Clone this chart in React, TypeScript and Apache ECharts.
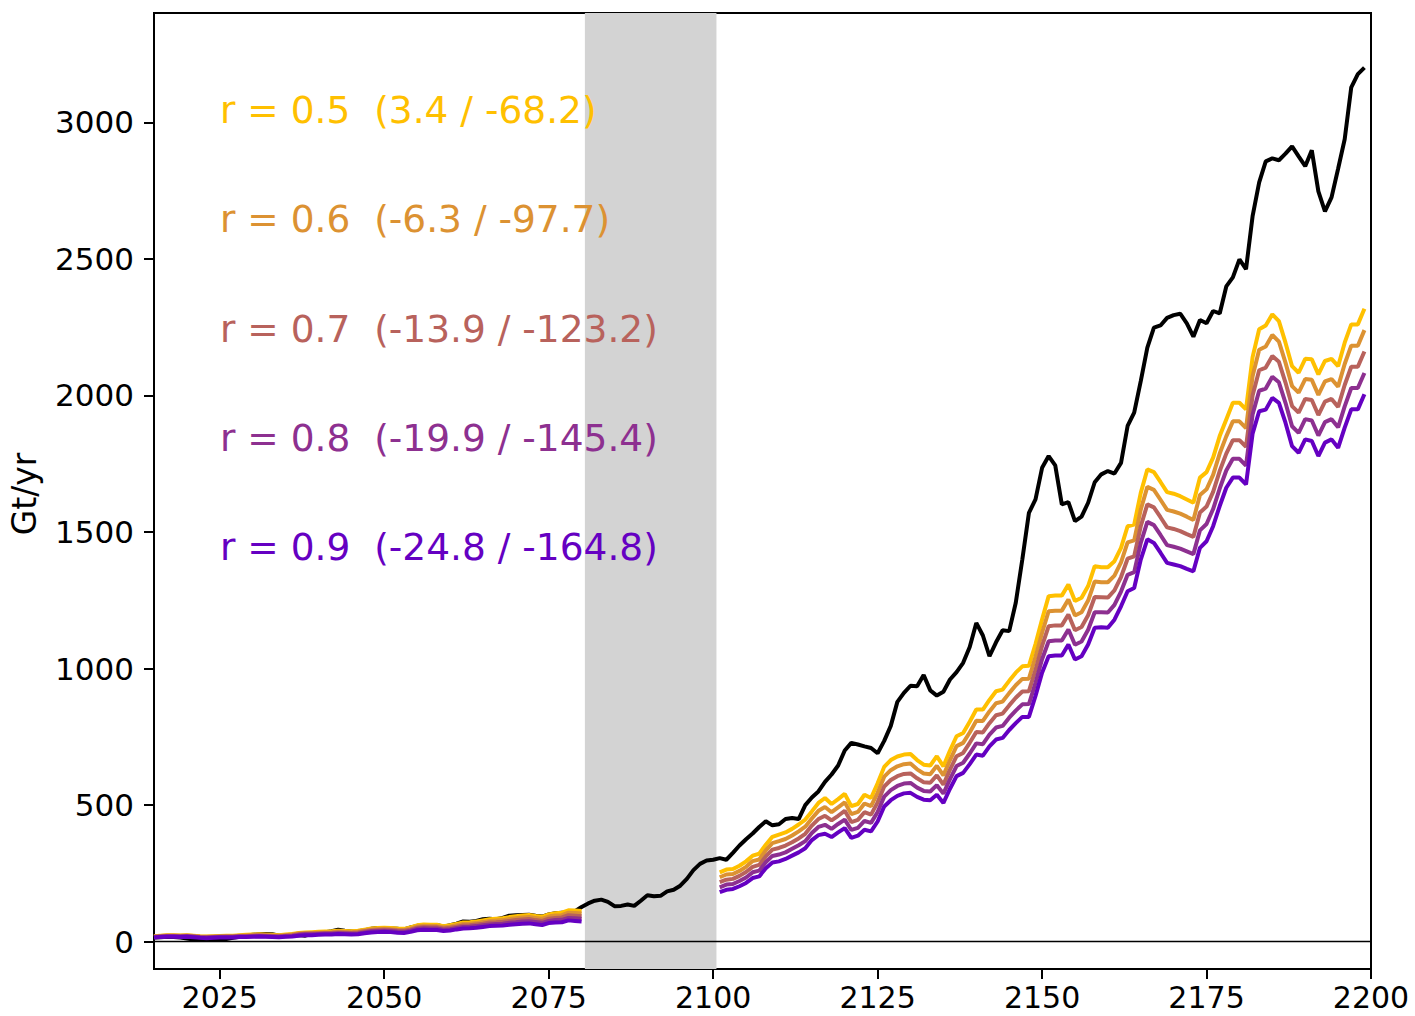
import React, { useEffect, useRef } from "react";
import * as echarts from "echarts";

// ---------- data ----------
const FIRST_YEAR = 2015; // first year of every series
const LATE_START = 2101; // r-series resume after the shaded period

const xTicks = [2025, 2050, 2075, 2100, 2125, 2150, 2175, 2200];
const yTicks = [0, 500, 1000, 1500, 2000, 2500, 3000];
const shadedPeriod = [2080.5, 2100.5];

// black line, 2015..2199
const blackValues = [
  15, 16, 18, 17, 15, 12, 8, 6, 6, 7,
  8, 10, 14, 18, 22, 25, 27, 28, 27, 22,
  24, 25, 24, 22, 28, 32, 35, 38, 44, 40,
  37, 38, 42, 47, 50, 49, 48, 47, 45, 52,
  58, 60, 60, 61, 55, 60, 66, 74, 73, 76,
  82, 84, 82, 87, 95, 97, 98, 99, 95, 92,
  100, 104, 106, 107, 112, 127, 140, 150, 154, 146,
  130, 131, 136, 131, 150, 170, 166, 168, 184, 190,
  205, 230, 262, 285, 297, 300, 306, 300, 325, 352,
  375, 396, 420, 441, 426, 430, 449, 453, 449, 500,
  528, 550, 585, 612, 645, 700, 728, 722, 715, 709,
  690, 735, 790, 878, 911, 937, 935, 976, 920, 901,
  915, 960, 987, 1021, 1079, 1167, 1121, 1045, 1096, 1140,
  1137, 1241, 1400, 1570, 1619, 1735, 1778, 1744, 1601, 1609,
  1540, 1556, 1607, 1682, 1711, 1723, 1714, 1753, 1888, 1937,
  2052, 2175, 2248, 2256, 2284, 2294, 2299, 2264, 2215, 2276,
  2264, 2309, 2300, 2399, 2432, 2498, 2462, 2656, 2780, 2857,
  2868, 2861, 2885, 2912, 2875, 2839, 2897, 2747, 2674, 2725,
  2830, 2938, 3128, 3176, 3200,
];

// r-series, 2015..2080
const r05Early = [
  20, 22, 24, 24, 23, 24, 22, 20, 19, 20,
  21, 22, 22, 24, 25, 26, 27, 26, 25, 24,
  26, 28, 32, 34, 35, 36, 37, 38, 40, 39,
  38, 40, 44, 48, 50, 51, 50, 48, 47, 52,
  60, 63, 62, 62, 57, 60, 65, 70, 71, 74,
  78, 82, 84, 86, 90, 93, 96, 98, 94, 91,
  100, 104, 106, 115, 114, 112,
];
const r06Early = [
  19, 21, 23, 23, 22, 23, 21, 19, 18, 19,
  20, 20, 20, 22, 23, 24, 25, 24, 23, 22,
  24, 26, 30, 32, 32, 33, 34, 35, 37, 36,
  35, 37, 41, 45, 46, 47, 46, 44, 43, 48,
  56, 58, 57, 57, 53, 55, 60, 65, 66, 68,
  72, 76, 78, 79, 83, 86, 89, 90, 87, 84,
  92, 96, 97, 106, 105, 103,
];
const r07Early = [
  18, 20, 21, 21, 20, 21, 19, 17, 16, 17,
  18, 19, 19, 21, 21, 22, 23, 22, 21, 20,
  22, 24, 27, 29, 30, 31, 32, 32, 34, 33,
  32, 34, 38, 41, 43, 44, 43, 41, 40, 44,
  51, 54, 53, 53, 48, 51, 55, 59, 60, 63,
  66, 70, 71, 73, 76, 79, 81, 83, 79, 76,
  84, 87, 89, 97, 95, 93,
];
const r08Early = [
  16, 18, 20, 20, 19, 20, 18, 16, 15, 16,
  17, 17, 17, 19, 19, 20, 21, 20, 19, 18,
  20, 21, 25, 27, 27, 28, 29, 29, 31, 30,
  29, 30, 34, 38, 39, 40, 39, 37, 36, 40,
  47, 49, 48, 48, 44, 46, 50, 54, 55, 57,
  60, 63, 65, 66, 69, 71, 74, 75, 72, 69,
  76, 79, 80, 87, 86, 84,
];
const r09Early = [
  15, 17, 18, 18, 17, 18, 16, 14, 13, 14,
  15, 15, 15, 17, 17, 18, 19, 18, 17, 16,
  18, 19, 22, 24, 24, 25, 26, 26, 28, 27,
  26, 27, 31, 34, 35, 36, 35, 33, 32, 36,
  42, 44, 43, 43, 39, 41, 45, 48, 49, 51,
  54, 57, 58, 59, 62, 64, 66, 67, 64, 61,
  68, 70, 71, 78, 76, 74,
];

// r-series, 2101..2199
const r05Late = [
  254, 264, 266, 278, 294, 315, 322, 355, 384, 392,
  400, 413, 429, 447, 477, 508, 526, 504, 522, 541,
  496, 504, 538, 526, 580, 640, 665, 678, 685, 687,
  665, 648, 645, 679, 642, 700, 752, 764, 805, 850,
  850, 885, 917, 923, 955, 985, 1008, 1010, 1090, 1180,
  1265, 1267, 1267, 1308, 1247, 1259, 1302, 1375, 1371, 1371,
  1393, 1442, 1521, 1527, 1643, 1729, 1719, 1683, 1646, 1640,
  1631, 1619, 1607, 1699, 1719, 1772, 1851, 1912, 1973, 1973,
  1949, 2140, 2242, 2256, 2297, 2272, 2193, 2107, 2083, 2134,
  2132, 2077, 2126, 2134, 2107, 2193, 2260, 2260, 2317,
];
const r06Late = [
  236, 246, 248, 259, 274, 295, 301, 334, 361, 368,
  376, 389, 404, 421, 451, 479, 493, 474, 492, 510,
  467, 475, 506, 496, 545, 604, 628, 642, 650, 652,
  631, 616, 613, 644, 609, 665, 716, 728, 766, 809,
  808, 843, 873, 879, 910, 939, 962, 963, 1043, 1131,
  1210, 1212, 1212, 1253, 1194, 1206, 1249, 1319, 1316, 1316,
  1340, 1389, 1462, 1469, 1582, 1665, 1654, 1618, 1581, 1575,
  1567, 1556, 1544, 1635, 1656, 1709, 1787, 1850, 1905, 1905,
  1880, 2070, 2167, 2179, 2221, 2197, 2120, 2034, 2010, 2060,
  2057, 2002, 2051, 2060, 2032, 2115, 2182, 2182, 2239,
];
const r07Late = [
  218, 227, 230, 241, 255, 274, 281, 312, 337, 343,
  352, 364, 378, 395, 425, 449, 461, 444, 461, 479,
  438, 446, 474, 465, 510, 568, 592, 606, 614, 616,
  598, 584, 582, 609, 575, 630, 679, 691, 728, 768,
  766, 800, 829, 835, 865, 893, 916, 917, 995, 1083,
  1155, 1158, 1158, 1198, 1140, 1152, 1195, 1262, 1261, 1260,
  1286, 1335, 1402, 1411, 1521, 1601, 1590, 1554, 1517, 1511,
  1503, 1492, 1482, 1571, 1593, 1647, 1723, 1787, 1836, 1836,
  1812, 2000, 2092, 2102, 2144, 2123, 2047, 1961, 1937, 1987,
  1983, 1928, 1977, 1987, 1958, 2038, 2105, 2105, 2161,
];
const r08Late = [
  199, 209, 211, 222, 235, 254, 260, 291, 314, 319,
  327, 340, 353, 368, 398, 420, 428, 413, 431, 447,
  409, 417, 442, 435, 475, 531, 555, 570, 579, 581,
  564, 552, 550, 573, 542, 595, 643, 655, 689, 726,
  723, 758, 784, 790, 820, 846, 869, 870, 948, 1034,
  1100, 1103, 1103, 1143, 1087, 1099, 1142, 1206, 1206, 1205,
  1233, 1282, 1343, 1353, 1460, 1537, 1525, 1489, 1452, 1446,
  1439, 1429, 1419, 1506, 1529, 1584, 1659, 1725, 1768, 1768,
  1743, 1930, 2017, 2025, 2068, 2048, 1973, 1887, 1863, 1913,
  1908, 1853, 1902, 1913, 1883, 1960, 2027, 2027, 2082,
];
const r09Late = [
  181, 190, 193, 203, 215, 233, 239, 269, 290, 294,
  303, 315, 327, 342, 372, 390, 395, 383, 400, 416,
  380, 388, 410, 404, 440, 495, 518, 534, 543, 545,
  530, 520, 518, 538, 508, 560, 606, 618, 650, 685,
  681, 715, 740, 746, 775, 800, 823, 823, 900, 985,
  1045, 1048, 1048, 1088, 1033, 1045, 1088, 1149, 1151, 1149,
  1179, 1228, 1283, 1295, 1399, 1473, 1460, 1424, 1387, 1381,
  1375, 1365, 1356, 1442, 1466, 1521, 1595, 1662, 1699, 1699,
  1674, 1860, 1942, 1948, 1991, 1973, 1900, 1814, 1790, 1839,
  1833, 1778, 1827, 1839, 1808, 1882, 1949, 1949, 2004,
];

const rLabels = [
  "r = 0.5  (3.4 / -68.2)",
  "r = 0.6  (-6.3 / -97.7)",
  "r = 0.7  (-13.9 / -123.2)",
  "r = 0.8  (-19.9 / -145.4)",
  "r = 0.9  (-24.8 / -164.8)",
];
const rColors = ["#FFC000", "#DC9232", "#B8625C", "#8D3090", "#6500C2"];
const rEarly = [r05Early, r06Early, r07Early, r08Early, r09Early];
const rLate = [r05Late, r06Late, r07Late, r08Late, r09Late];

const FONT = "DejaVu Sans";

function buildPairs(early: number[], late: number[]) {
  const out: any[] = early.map((v, i) => [FIRST_YEAR + i, v]);
  out.push([2090, "-"]);
  late.forEach((v, i) => out.push([LATE_START + i, v]));
  return out;
}

const plain = (v: number) => String(v);

export default function App() {
  const ref = useRef<HTMLDivElement>(null);

  useEffect(() => {
    if (!ref.current) return;
    const chart = echarts.init(ref.current, undefined, { renderer: "svg" });

    const blackData = blackValues.map((v, i) => [FIRST_YEAR + i, v]);

    const series: any[] = [
      {
        type: "line",
        data: [],
        z: 1,
        silent: true,
        markArea: {
          silent: true,
          itemStyle: { color: "#D3D3D3" },
          data: [[{ xAxis: shadedPeriod[0] }, { xAxis: shadedPeriod[1] }]],
        },
      },
      {
        type: "line",
        data: blackData,
        symbol: "none",
        showSymbol: false,
        z: 2,
        lineStyle: { color: "#000000", width: 4 },
        itemStyle: { color: "#000000" },
      },
    ];
    rEarly.forEach((early, k) => {
      series.push({
        type: "line",
        data: buildPairs(early, rLate[k]),
        symbol: "none",
        showSymbol: false,
        connectNulls: false,
        z: 2,
        lineStyle: { color: rColors[k], width: 4 },
        itemStyle: { color: rColors[k] },
      });
    });
    series.push({
      type: "line",
      data: [],
      z: 3,
      silent: true,
      markLine: {
        silent: true,
        symbol: "none",
        label: { show: false },
        lineStyle: { color: "#000000", width: 1.3, type: "solid" },
        data: [{ yAxis: 0 }],
      },
    });

    const graphics: any[] = [
      {
        type: "text",
        x: 24,
        y: 494,
        rotation: Math.PI / 2,
        style: {
          text: "Gt/yr",
          fontSize: 33,
          fontFamily: FONT,
          fill: "#000000",
          align: "center",
          verticalAlign: "middle",
        },
      },
    ];
    const labelY = [110, 219, 328.5, 438, 547];
    rLabels.forEach((t, k) => {
      graphics.push({
        type: "text",
        x: 220,
        y: labelY[k],
        z: 10,
        style: {
          text: t,
          fontSize: 37.5,
          fontFamily: FONT,
          fill: rColors[k],
          align: "left",
          verticalAlign: "middle",
        },
      });
    });

    chart.setOption({
      animation: false,
      backgroundColor: "#ffffff",
      textStyle: { fontFamily: FONT },
      grid: {
        left: 154,
        top: 13,
        width: 1217,
        height: 956,
        show: true,
        borderColor: "#000000",
        borderWidth: 2,
        containLabel: false,
      },
      xAxis: {
        type: "value",
        min: 2015,
        max: 2200,
        splitLine: { show: false },
        axisLine: { show: true, onZero: false, lineStyle: { color: "#000000", width: 2 } },
        axisTick: {
          show: true,
          customValues: xTicks,
          length: 10,
          lineStyle: { color: "#000000", width: 2 },
        },
        axisLabel: {
          customValues: xTicks,
          formatter: plain,
          color: "#000000",
          fontSize: 30,
          lineHeight: 24,
          fontFamily: FONT,
          margin: 16,
        },
      },
      yAxis: {
        type: "value",
        min: -100,
        max: 3400,
        splitLine: { show: false },
        axisLine: { show: true, onZero: false, lineStyle: { color: "#000000", width: 2 } },
        axisTick: {
          show: true,
          customValues: yTicks,
          length: 10,
          lineStyle: { color: "#000000", width: 2 },
        },
        axisLabel: {
          customValues: yTicks,
          formatter: plain,
          color: "#000000",
          fontSize: 31,
          fontFamily: FONT,
          margin: 20,
        },
      },
      series,
      graphic: graphics,
    });

    return () => chart.dispose();
  }, []);

  return (
    <div
      ref={ref}
      style={{ position: "fixed", left: 0, top: 0, width: 1415, height: 1016 }}
    />
  );
}
